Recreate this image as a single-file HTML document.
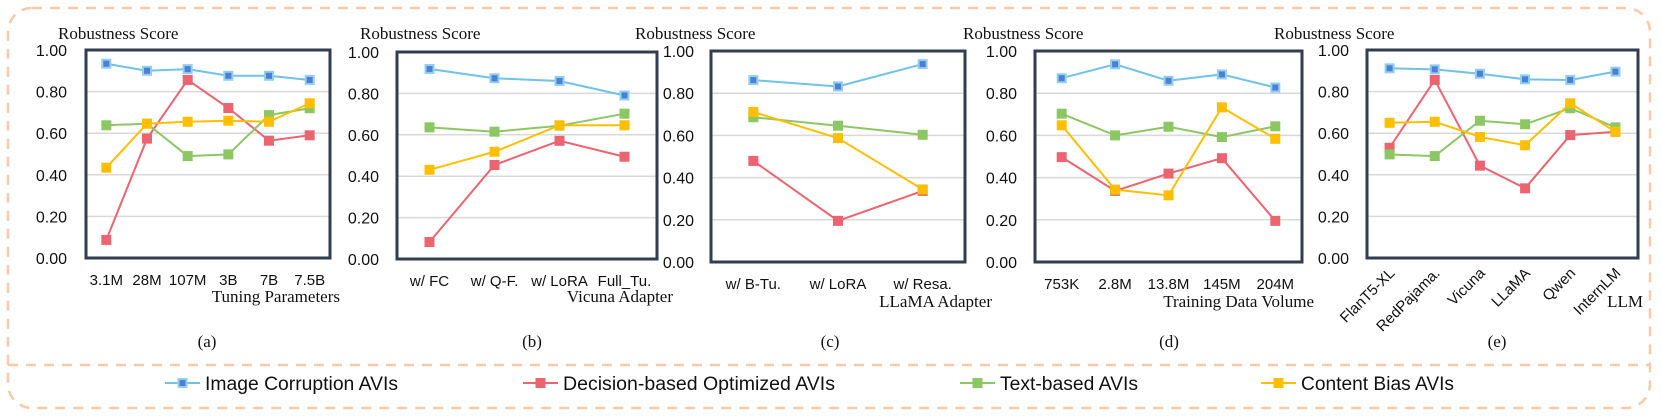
<!DOCTYPE html>
<html><head><meta charset="utf-8">
<style>
html,body{margin:0;padding:0;background:#fff;}
svg{display:block;}
.serif{font-family:"Liberation Serif",serif;fill:#111;}
.sans{font-family:"Liberation Sans",sans-serif;fill:#111;}
</style></head>
<body>
<svg id="chart" width="1661" height="416" viewBox="0 0 1661 416" xmlns="http://www.w3.org/2000/svg">
<rect x="8" y="8" width="1642" height="400" rx="24" fill="none" stroke="#f9c9a8" stroke-width="2.5" stroke-dasharray="10,8"/>
<line x1="8" y1="365" x2="1650" y2="365" stroke="#f9c9a8" stroke-width="2.5" stroke-dasharray="10,8"/>
<g id="panels"></g>
<g id="legend"></g>
</svg>
<script>
// ---- data ----
const seriesNames = ["Image Corruption AVIs","Decision-based Optimized AVIs","Text-based AVIs","Content Bias AVIs"];
const yTicks = [0,0.2,0.4,0.6,0.8,1.0];
const yTickLabels = ["0.00","0.20","0.40","0.60","0.80","1.00"];

const catsA = ["3.1M","28M","107M","3B","7B","7.5B"];
const imgA = [0.934,0.90,0.908,0.876,0.876,0.856];
const decA = [0.087,0.574,0.856,0.721,0.564,0.59];
const txtA = [0.638,0.646,0.49,0.498,0.687,0.72];
const conA = [0.434,0.646,0.655,0.66,0.655,0.744];

const catsB = ["w/ FC","w/ Q-F.","w/ LoRA","Full_Tu."];
const imgB = [0.918,0.873,0.86,0.79];
const decB = [0.082,0.454,0.571,0.494];
const txtB = [0.636,0.615,0.644,0.702];
const conB = [0.431,0.518,0.646,0.646];

const catsC = ["w/ B-Tu.","w/ LoRA","w/ Resa."];
const imgC = [0.862,0.832,0.938];
const decC = [0.479,0.195,0.337];
const txtC = [0.686,0.646,0.603];
const conC = [0.711,0.587,0.344];

const catsD = ["753K","2.8M","13.8M","145M","204M"];
const imgD = [0.871,0.937,0.859,0.889,0.827];
const decD = [0.497,0.337,0.419,0.492,0.195];
const txtD = [0.703,0.60,0.641,0.592,0.643];
const conD = [0.648,0.343,0.316,0.733,0.584];

const catsE = ["FlanT5-XL","RedPajama.","Vicuna","LLaMA","Qwen","InternLM"];
const imgE = [0.912,0.907,0.886,0.859,0.856,0.896];
const decE = [0.53,0.856,0.444,0.335,0.591,0.607];
const txtE = [0.498,0.49,0.66,0.643,0.72,0.628];
const conE = [0.65,0.655,0.582,0.542,0.744,0.607];

// ---- layout ----
const lineColors = ["#6fc2e8","#ec6470","#8dc764","#ffbf00"];
const markColors = ["#4a7fd0","#ec6470","#8dc764","#ffbf00"];
const NS = "http://www.w3.org/2000/svg";
function mk(tag, attrs, parent){const e=document.createElementNS(NS,tag);for(const k in attrs)e.setAttribute(k,attrs[k]);parent.appendChild(e);return e;}

const panels = [
 {id:"a",cats:catsA,data:[imgA,decA,txtA,conA],x0:86,x1:330,y0:50,y1:258,tickX:67,titleX:58,xTitle:"Tuning Parameters",xTitleX:340,capX:207,rot:false},
 {id:"b",cats:catsB,data:[imgB,decB,txtB,conB],x0:397,x1:657,y0:52,y1:259,tickX:379,titleX:360,xTitle:"Vicuna  Adapter",xTitleX:673,capX:532,rot:false},
 {id:"c",cats:catsC,data:[imgC,decC,txtC,conC],x0:711,x1:965,y0:51,y1:262,tickX:694,titleX:635,xTitle:"LLaMA  Adapter",xTitleX:992,capX:830,rot:false},
 {id:"d",cats:catsD,data:[imgD,decD,txtD,conD],x0:1035,x1:1302,y0:51,y1:262,tickX:1017,titleX:963,xTitle:"Training Data Volume",xTitleX:1314,capX:1169,rot:false},
 {id:"e",cats:catsE,data:[imgE,decE,txtE,conE],x0:1367,x1:1638,y0:50,y1:258,tickX:1349,titleX:1274,xTitle:"LLM",xTitleX:1643,capX:1497,rot:true}
];

const root = document.getElementById("panels");
panels.forEach(p=>{
  const g = mk("g",{},root);
  
  
  const yS = v => p.y1 - (p.y1-p.y0)*v;
  const bw = (p.x1-p.x0)/p.cats.length;
  const xS = i => p.x0 + bw*(i+0.5);
  yTicks.forEach((t,i)=>{
    if(t>0 && t<1){
      const gl = mk("line",{x1:p.x0,x2:p.x1,y1:yS(t),y2:yS(t),stroke:"#d9d9d9","stroke-width":1.5},g);
      
      
    }
    const tl = mk("text",{x:p.tickX,y:yS(t)+6,"text-anchor":"end","font-size":16,class:"sans"},g);
    
    
    tl.textContent = yTickLabels[i];
  });
  const yt = mk("text",{x:p.titleX,y:39,"font-size":17,class:"serif"},g);
  
  
  yt.textContent = "Robustness  Score";
  p.data.forEach((vals,s)=>{
    const pts = vals.map((v,i)=>xS(i)+","+yS(v)).join(" ");
    const pl = mk("polyline",{points:pts,fill:"none",stroke:lineColors[s],"stroke-width":2},g);
    
    
    vals.forEach((v,i)=>{
      let m;
      if(s===0){
        m = mk("rect",{x:xS(i)-4,y:yS(v)-4,width:8,height:8,fill:"#4f7fd4",stroke:"#8fd0f0","stroke-width":2},g);
      } else {
        m = mk("rect",{x:xS(i)-5,y:yS(v)-5,width:10,height:10,fill:markColors[s]},g);
      }
      
      
    });
  });
  const fr = mk("rect",{x:p.x0,y:p.y0,width:p.x1-p.x0,height:p.y1-p.y0,fill:"none",stroke:"#323e4f","stroke-width":3},g);
  
  
  p.cats.forEach((c,i)=>{
    let t;
    if(p.rot){
      t = mk("text",{x:xS(i)+6,y:p.y1+16,"text-anchor":"end","font-size":15,class:"sans",transform:"rotate(-45 "+(xS(i)+6)+" "+(p.y1+16)+")"},g);
    } else {
      t = mk("text",{x:xS(i),y:p.y1+27,"text-anchor":"middle","font-size":15,class:"sans"},g);
    }
    
    
    t.textContent = c;
  });
  const xt = mk("text",{x:p.xTitleX,y:p.id==='a'||p.id==='b'?302:307,"text-anchor":"end","font-size":17,class:"serif"},g);
  
  
  xt.textContent = p.xTitle;
  const cap = mk("text",{x:p.capX,y:347,"text-anchor":"middle","font-size":17,class:"serif"},g);
  
  
  cap.textContent = "("+p.id+")";
});

const legX = [165,523,960,1261];
const legW = [193,272,138,153];
const lg = document.getElementById("legend");
seriesNames.forEach((n,s)=>{
  const y = 383;
  const l = mk("line",{x1:legX[s],x2:legX[s]+35,y1:y,y2:y,stroke:lineColors[s],"stroke-width":2},lg);
  
  
  let m;
  if(s===0) m = mk("rect",{x:legX[s]+13.5,y:y-4,width:8,height:8,fill:"#4f7fd4",stroke:"#8fd0f0","stroke-width":2},lg);
  else m = mk("rect",{x:legX[s]+12.5,y:y-5,width:10,height:10,fill:markColors[s]},lg);
  
  
  const t = mk("text",{x:legX[s]+40,y:y+7,"font-size":19,class:"sans",textLength:legW[s],lengthAdjust:"spacingAndGlyphs"},lg);
  
  
  t.textContent = n;
});
</script>
</body></html>
